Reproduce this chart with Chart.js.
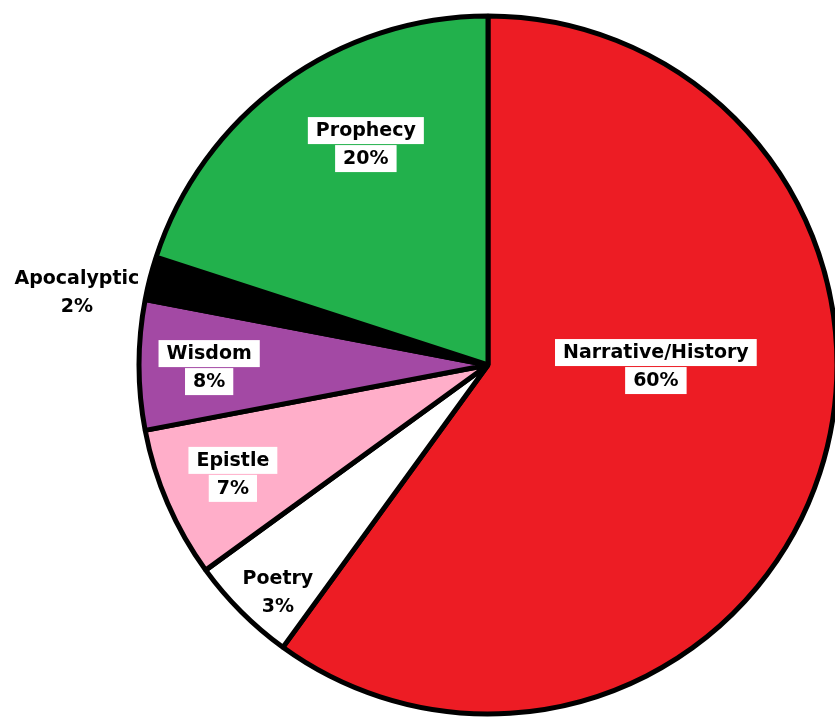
<!DOCTYPE html>
<html>
<head>
<meta charset="utf-8">
<script src="https://cdn.jsdelivr.net/npm/chart.js@4"></script>
<style>
  html, body { margin: 0; padding: 0; background: #fff; overflow: hidden; }
  canvas { display: block; }
</style>
</head>
<body>
<canvas id="pie" width="835" height="717"></canvas>
<script>
// genres, clockwise from 12 o'clock
const genres = ['Narrative/History', 'Poetry', 'Epistle', 'Wisdom', 'Apocalyptic', 'Prophecy'];
// slice sizes as drawn in the picture
const shares = [60, 5, 7, 6, 2, 20];
// percentage text printed on each slice
const shareLabels = ['60%', '3%', '7%', '8%', '2%', '20%'];
const sliceColors = ['#ed1c24', '#ffffff', '#ffaec9', '#a349a4', '#000000', '#22b14c'];

// label anchor relative to pie centre, in units of the radius
const labelOffsets = [[0.481, 0.003], [-0.602, 0.65], [-0.731, 0.312], [-0.799, 0.006], [-1.178, -0.209], [-0.35, -0.633]];
const labelBoxed = [true, false, true, true, false, true];

const sliceLabels = {
    id: 'sliceLabels',
    afterDatasetsDraw(chart) {
        const arc = chart.getDatasetMeta(0).data[0];
        if (!arc) return;
        const { x, y, outerRadius } = arc.getProps(['x', 'y', 'outerRadius'], true);
        const ctx = chart.ctx;
        ctx.save();
        ctx.font = 'bold 19px "DejaVu Sans"';
        ctx.textAlign = 'center';
        ctx.textBaseline = 'middle';
        genres.forEach((g, i) => {
            const cx = x + labelOffsets[i][0] * outerRadius;
            const cy = y + labelOffsets[i][1] * outerRadius;
            const lines = [g, shareLabels[i]];
            lines.forEach((t, k) => {
                const ly = cy + (k - 0.5) * 28;
                if (labelBoxed[i]) {
                    const w = ctx.measureText(t).width;
                    ctx.fillStyle = '#fff';
                    ctx.fillRect(cx - w / 2 - 8, ly - 13, w + 16, 27);
                }
                ctx.fillStyle = '#000';
                ctx.fillText(t, cx, ly + 1);
            });
        });
        ctx.restore();
    }
};

new Chart(document.getElementById('pie'), {
    type: 'pie',
    data: {
        labels: genres,
        datasets: [{
            data: shares,
            backgroundColor: sliceColors,
            borderColor: '#000',
            borderWidth: 5,
            clip: false
        }]
    },
    options: {
        responsive: false,
        animation: false,
        radius: 349,
        layout: { padding: { left: 141, right: 0, top: 13, bottom: 0 } },
        plugins: { legend: { display: false }, tooltip: { enabled: false } }
    },
    plugins: [sliceLabels]
});
</script>
</body>
</html>
